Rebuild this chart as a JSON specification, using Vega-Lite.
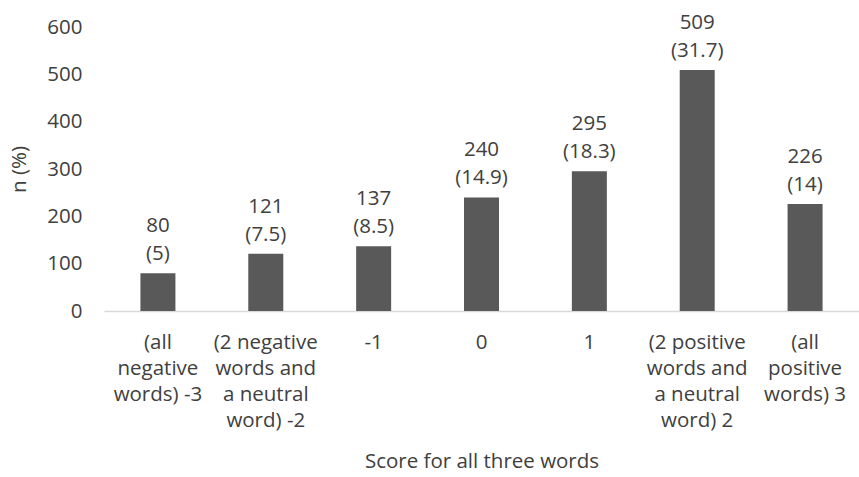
{
  "$schema": "https://vega.github.io/schema/vega-lite/v6.json",
  "autosize": {"type": "none"},
  "width": 755,
  "height": 284,
  "padding": {"left": 104, "top": 27, "right": 0, "bottom": 166},
  "background": "white",
  "config": {
    "font": "Open Sans",
    "view": {"stroke": null},
    "axis": {"labelFont": "Open Sans", "titleFont": "Open Sans", "labelColor": "#404040", "titleColor": "#404040", "titleFontWeight": "normal"}
  },
  "data": {
    "values": [
      {"score": "(all|negative|words) -3", "n": 80, "label": "80\n(5)"},
      {"score": "(2 negative|words and|a neutral|word) -2", "n": 121, "label": "121\n(7.5)"},
      {"score": "-1", "n": 137, "label": "137\n(8.5)"},
      {"score": "0", "n": 240, "label": "240\n(14.9)"},
      {"score": "1", "n": 295, "label": "295\n(18.3)"},
      {"score": "(2 positive|words and|a neutral|word) 2", "n": 509, "label": "509\n(31.7)"},
      {"score": "(all|positive|words) 3", "n": 226, "label": "226\n(14)"}
    ]
  },
  "encoding": {
    "x": {
      "field": "score",
      "type": "nominal",
      "sort": null,
      "title": "Score for all three words",
      "axis": {
        "labelExpr": "split(datum.value, '|')",
        "labelAngle": 0,
        "labelFontSize": 20.5,
        "labelLineHeight": 26,
        "labelBaseline": "top",
        "labelPadding": 21,
        "ticks": false,
        "domainColor": "#d9d9d9",
        "domainWidth": 1.5,
        "titleFontSize": 20.5,
        "titlePadding": 21
      }
    },
    "y": {
      "field": "n",
      "type": "quantitative",
      "scale": {"domain": [0, 600]},
      "title": "n (%)",
      "axis": {
        "values": [0, 100, 200, 300, 400, 500, 600],
        "grid": false,
        "domain": false,
        "ticks": false,
        "labelFontSize": 20.5,
        "labelPadding": 22,
        "titleFontSize": 20.5,
        "titlePadding": 17
      }
    }
  },
  "layer": [
    {"mark": {"type": "bar", "color": "#595959", "size": 35}},
    {
      "mark": {"type": "text", "lineBreak": "\n", "baseline": "bottom", "dy": -37, "fontSize": 20.5, "lineHeight": 28, "color": "#404040"},
      "encoding": {"text": {"field": "label"}}
    }
  ]
}
